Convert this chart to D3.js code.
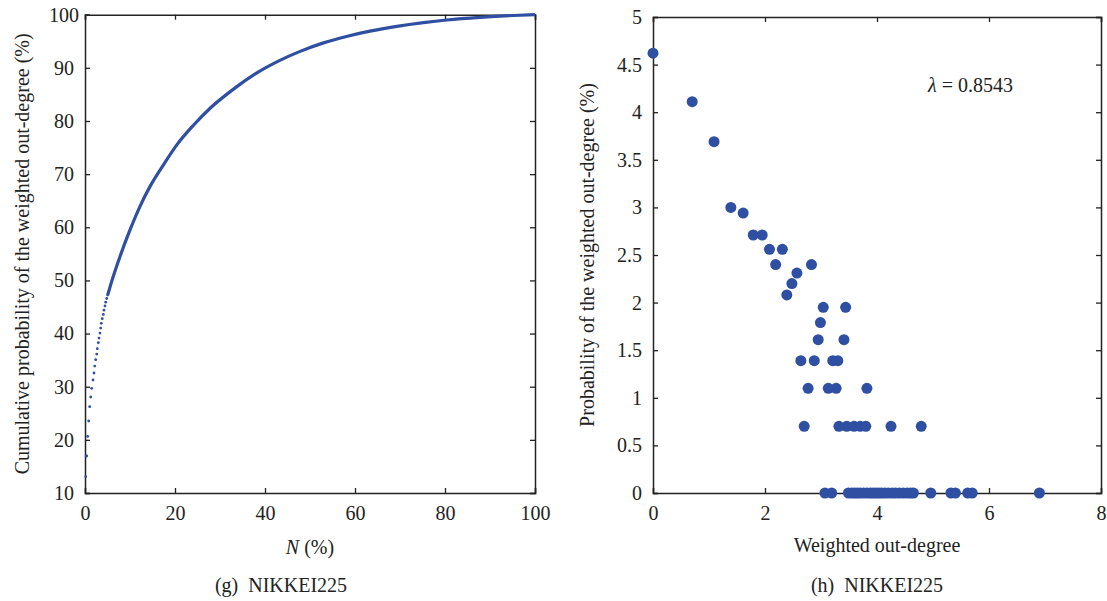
<!DOCTYPE html>
<html>
<head>
<meta charset="utf-8">
<script src="https://cdn.jsdelivr.net/npm/d3@7"></script>
<style>
  body { margin: 0; background: #fff; }
  text { font-family: "Liberation Serif", "Times New Roman", serif; fill: #222; }
</style>
</head>
<body>
<div id="chart"></div>
<script>
// (g) cumulative probability, first separate dots
var startN = [0.16, 0.38, 0.6, 0.82, 1.04, 1.27, 1.49, 1.78, 2.0, 2.16, 2.38, 2.6, 2.73, 2.96, 3.11, 3.33, 3.49, 3.62, 3.84, 4.07, 4.22, 4.44, 4.6, 4.82, 5.04];
var startP = [13.07, 16.96, 20.67, 23.55, 26.24, 28.06, 29.7, 31.26, 32.58, 33.89, 35.08, 36.15, 37.15, 38.28, 39.16, 40.1, 41.04, 41.93, 42.8, 43.6, 44.4, 45.2, 45.9, 46.6, 47.25];
// (g) rest of the curve, where the dots merge
var curveN = [5.04, 5.78, 7.78, 10, 12.2, 14.4, 17.4, 20.4, 24.1, 27.8, 33, 38.1, 43.3, 47.8, 53, 58.1, 63.3, 69.3, 75.2, 80.4, 87.8, 95.2, 100];
var curveP = [47.25, 49.4, 54.5, 59.5, 63.9, 67.6, 71.7, 75.5, 79.2, 82.4, 86.0, 89.0, 91.4, 93.1, 94.7, 95.9, 96.9, 97.8, 98.5, 99.0, 99.5, 99.85, 100];

// (h) weighted out-degree scatter
var degX = [0, 0.70, 1.09, 1.39, 1.61, 1.79, 1.95, 2.08, 2.31, 2.19, 2.83, 2.57, 2.48, 2.39,
  3.04, 3.44, 2.99, 2.95, 3.41, 2.64, 2.88, 3.21, 3.30, 2.77, 3.13, 3.27, 3.82,
  2.70, 3.32, 3.46, 3.59, 3.70, 3.80, 4.25, 4.79,
  3.07, 3.19, 3.49, 3.55, 3.60, 3.65, 3.70, 3.76, 3.82, 3.88, 3.93, 3.98, 4.03, 4.08, 4.14, 4.20, 4.27, 4.33, 4.40, 4.47, 4.54, 4.60, 4.65,
  4.96, 5.32, 5.40, 5.62, 5.70, 6.90];
var degP = [4.62, 4.11, 3.69, 3.00, 2.94, 2.71, 2.71, 2.56, 2.56, 2.40, 2.40, 2.31, 2.20, 2.08,
  1.95, 1.95, 1.79, 1.61, 1.61, 1.39, 1.39, 1.39, 1.39, 1.10, 1.10, 1.10, 1.10,
  0.70, 0.70, 0.70, 0.70, 0.70, 0.70, 0.70, 0.70,
  0, 0, 0, 0, 0, 0, 0, 0, 0, 0, 0, 0, 0, 0, 0, 0, 0, 0, 0, 0, 0, 0, 0,
  0, 0, 0, 0, 0, 0];

var ticksG_x = [0, 20, 40, 60, 80, 100];
var ticksG_y = [10, 20, 30, 40, 50, 60, 70, 80, 90, 100];
var ticksH_x = [0, 2, 4, 6, 8];
var ticksH_y = [0, 0.5, 1, 1.5, 2, 2.5, 3, 3.5, 4, 4.5, 5];

var blue = "#2e4fa2";
var fontSize = "20px";
var fmt = d3.format("~g");

var svg = d3.select("#chart").append("svg")
  .attr("width", 1107)
  .attr("height", 601);

svg.append("rect").attr("width", 1107).attr("height", 601).attr("fill", "#fff");

function frame(x, y, xt, yt) {
  var x0 = x.range()[0], x1 = x.range()[1];
  var y0 = y.range()[0], y1 = y.range()[1];
  var g = svg.append("g");

  var bottom = g.append("g")
    .attr("transform", `translate(0, ${y0})`)
    .call(d3.axisBottom(x).tickValues(xt).tickSize(-5).tickPadding(13).tickFormat(fmt));
  g.append("g")
    .attr("transform", `translate(0, ${y1})`)
    .call(d3.axisTop(x).tickValues(xt).tickSize(-5).tickFormat(""));
  var left = g.append("g")
    .attr("transform", `translate(${x0}, 0)`)
    .call(d3.axisLeft(y).tickValues(yt).tickSize(-5).tickPadding(11).tickFormat(fmt));
  g.append("g")
    .attr("transform", `translate(${x1}, 0)`)
    .call(d3.axisRight(y).tickValues(yt).tickSize(-5).tickFormat(""));

  g.selectAll(".domain").attr("stroke", "#222").attr("stroke-width", 1.5);
  g.selectAll(".tick line").attr("stroke", "#222").attr("stroke-width", 1.3);
  g.selectAll(".tick text").style("font-size", fontSize).attr("fill", "#222");
  return { bottom: bottom, left: left };
}

/* ---------- (g) ---------- */
var xG = d3.scaleLinear().domain([0, 100]).range([85, 535]);
var yG = d3.scaleLinear().domain([10, 100]).range([493, 14.7]);

var axG = frame(xG, yG, ticksG_x, ticksG_y);
// y labels of this panel are centred
axG.left.selectAll(".tick text").attr("text-anchor", "middle").attr("x", -21);

var line = d3.line()
  .x(d => xG(d[0]))
  .y(d => yG(d[1]))
  .curve(d3.curveMonotoneX);

svg.append("path")
  .datum(curveN.map((n, i) => [n, curveP[i]]))
  .attr("d", line)
  .attr("fill", "none")
  .attr("stroke", blue)
  .attr("stroke-width", 3.2);

svg.append("g").selectAll("circle")
  .data(startN.map((n, i) => [n, startP[i]])).enter()
  .append("circle")
  .attr("cx", d => xG(d[0]))
  .attr("cy", d => yG(d[1]))
  .attr("r", 1.4)
  .attr("fill", blue);

svg.append("text")
  .attr("transform", `translate(29, ${(493 + 14.7) / 2}) rotate(-90)`)
  .attr("text-anchor", "middle")
  .style("font-size", fontSize)
  .text("Cumulative probability of the weighted out-degree (%)");

var nt = svg.append("text")
  .attr("x", 310).attr("y", 554)
  .attr("text-anchor", "middle")
  .style("font-size", fontSize);
nt.append("tspan").style("font-style", "italic").text("N");
nt.append("tspan").text(" (%)");

svg.append("text")
  .attr("x", 281).attr("y", 592)
  .attr("text-anchor", "middle")
  .style("font-size", fontSize)
  .attr("xml:space", "preserve")
  .text("(g)  NIKKEI225");

/* ---------- (h) ---------- */
var xH = d3.scaleLinear().domain([0, 8]).range([653, 1101]);
var yH = d3.scaleLinear().domain([0, 5]).range([493, 17]);

frame(xH, yH, ticksH_x, ticksH_y);

svg.append("g").selectAll("circle")
  .data(degX.map((v, i) => [v, degP[i]])).enter()
  .append("circle")
  .attr("cx", d => xH(d[0]))
  .attr("cy", d => yH(d[1]))
  .attr("r", 5.5)
  .attr("fill", blue);

var lt = svg.append("text")
  .attr("x", 928).attr("y", 92)
  .style("font-size", fontSize);
lt.append("tspan").style("font-style", "italic").text("λ");
lt.append("tspan").text(" = 0.8543");

svg.append("text")
  .attr("transform", `translate(594, ${(493 + 17) / 2}) rotate(-90)`)
  .attr("text-anchor", "middle")
  .style("font-size", fontSize)
  .text("Probability of the weighted out-degree (%)");

svg.append("text")
  .attr("x", 877).attr("y", 552)
  .attr("text-anchor", "middle")
  .style("font-size", fontSize)
  .text("Weighted out-degree");

svg.append("text")
  .attr("x", 877).attr("y", 592)
  .attr("text-anchor", "middle")
  .style("font-size", fontSize)
  .attr("xml:space", "preserve")
  .text("(h)  NIKKEI225");
</script>
</body>
</html>
